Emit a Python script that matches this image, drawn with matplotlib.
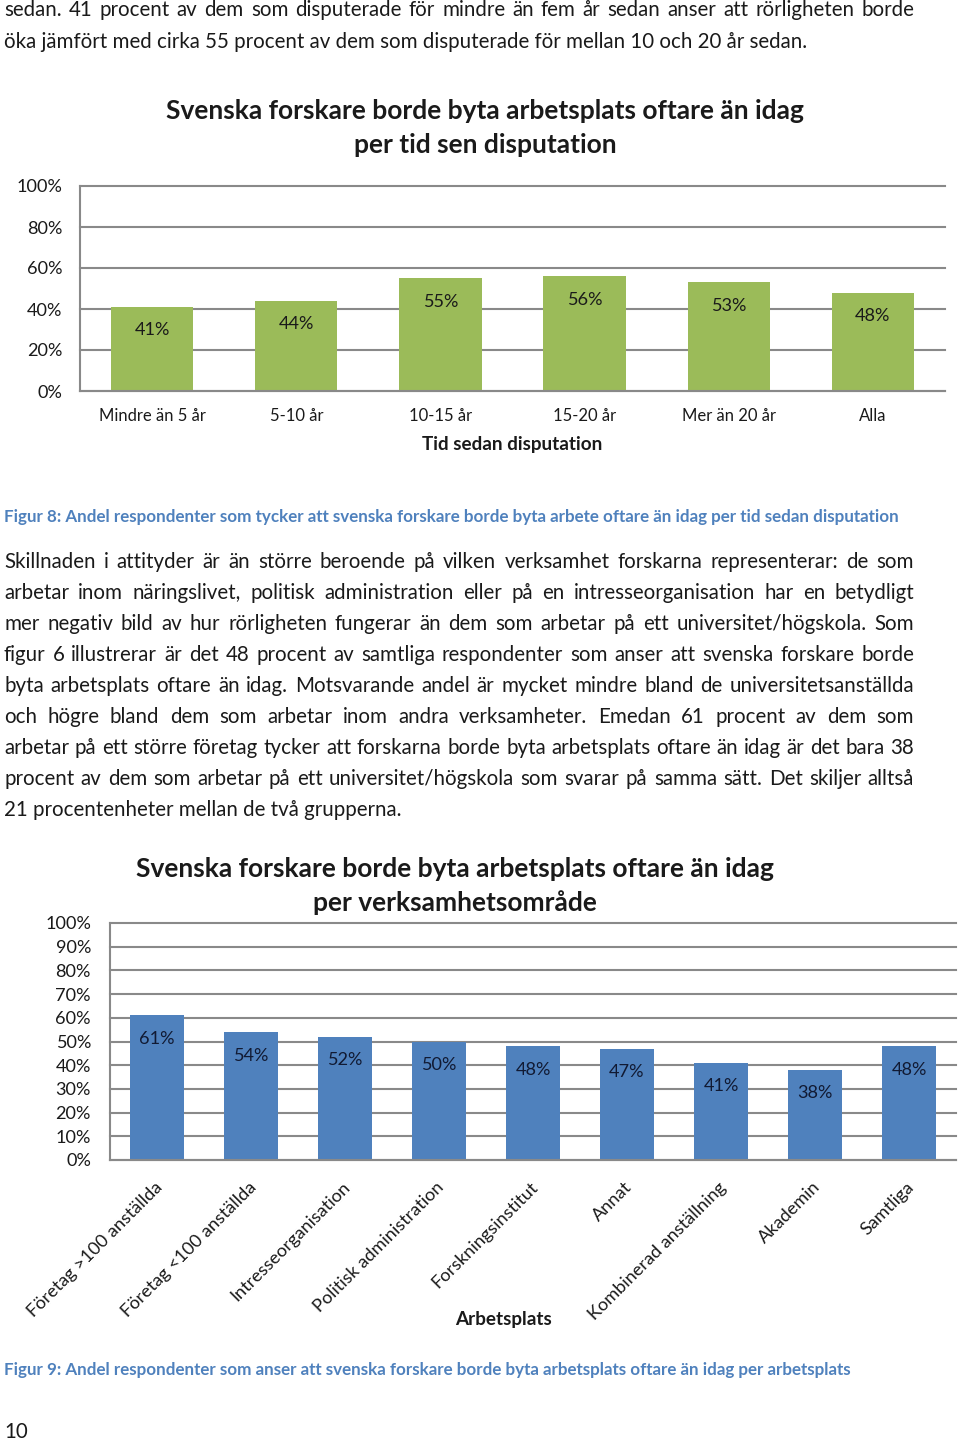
import matplotlib
matplotlib.use('Agg')
import matplotlib.pyplot as plt
from matplotlib.transforms import ScaledTranslation
import numpy as np

plt.rcParams['font.family'] = ['Lato', 'DejaVu Sans']

# ---------------- data ----------------
cat1 = ['Mindre än 5 år', '5-10 år', '10-15 år', '15-20 år', 'Mer än 20 år', 'Alla']
val1 = [41, 44, 55, 56, 53, 48]
title1 = 'Svenska forskare borde byta arbetsplats oftare än idag\nper tid sen disputation'
xlabel1 = 'Tid sedan disputation'
yticks1 = [0, 20, 40, 60, 80, 100]

cat2 = ['Företag >100 anställda', 'Företag <100 anställda', 'Intresseorganisation',
        'Politisk administration', 'Forskningsinstitut', 'Annat',
        'Kombinerad anställning', 'Akademin', 'Samtliga']
val2 = [61, 54, 52, 50, 48, 47, 41, 38, 48]
title2 = 'Svenska forskare borde byta arbetsplats oftare än idag\nper verksamhetsområde'
xlabel2 = 'Arbetsplats'
yticks2 = [0, 10, 20, 30, 40, 50, 60, 70, 80, 90, 100]

top_lines = [
    'sedan. 41 procent av dem som disputerade för mindre än fem år sedan anser att rörligheten borde',
    'öka jämfört med cirka 55 procent av dem som disputerade för mellan 10 och 20 år sedan.',
]
caption1 = 'Figur 8: Andel respondenter som tycker att svenska forskare borde byta arbete oftare än idag per tid sedan disputation'
body_lines = [
    'Skillnaden i attityder är än större beroende på vilken verksamhet forskarna representerar: de som',
    'arbetar inom näringslivet, politisk administration eller på en intresseorganisation har en betydligt',
    'mer negativ bild av hur rörligheten fungerar än dem som arbetar på ett universitet/högskola. Som',
    'figur 6 illustrerar är det 48 procent av samtliga respondenter som anser att svenska forskare borde',
    'byta arbetsplats oftare än idag. Motsvarande andel är mycket mindre bland de universitetsanställda',
    'och högre bland dem som arbetar inom andra verksamheter. Emedan 61 procent av dem som',
    'arbetar på ett större företag tycker att forskarna borde byta arbetsplats oftare än idag är det bara 38',
    'procent av dem som arbetar på ett universitet/högskola som svarar på samma sätt. Det skiljer alltså',
    '21 procentenheter mellan de två grupperna.',
]
caption2 = 'Figur 9: Andel respondenter som anser att svenska forskare borde byta arbetsplats oftare än idag per arbetsplats'
page_no = '10'

# ---------------- setup ----------------
W, H = 960, 1441
fig = plt.figure(figsize=(W / 100, H / 100), dpi=100)
fig.patch.set_facecolor('white')
renderer = fig.canvas.get_renderer()
PX2PT = 72 / 100

GREEN = '#9BBB59'
BLUE = '#4F81BD'
GRID = '#898989'
CAPC = '#4F81BD'
TXT = '#1a1a1a'


def fx(x):
    return x / W


def fy(y):
    return 1 - y / H


def text_width(s, size, weight='normal'):
    t = fig.text(0, 0, s, fontsize=size, fontweight=weight)
    w = t.get_window_extent(renderer).width
    t.remove()
    return w


def fit(s, target, weight='normal', ref=12.0):
    return ref * target / text_width(s, ref, weight)


BODY = fit(top_lines[1], 802)
CAP = fit(caption1, 891, 'bold')
TITLE = fit('Svenska forskare borde byta arbetsplats oftare än idag', 634, 'bold')
TICK = fit('Mindre än 5 år', 107)
NUM = TICK * 1.09
TICK2 = TICK * 1.09
XLAB = fit(xlabel1, 179, 'bold')


def justify(line, base_y, size, x0=4, x1=914, color=TXT, weight='normal', just=True):
    if not just:
        fig.text(fx(x0), fy(base_y), line, fontsize=size, color=color,
                 fontweight=weight, ha='left', va='baseline')
        return
    words = line.split(' ')
    widths = [text_width(w, size, weight) for w in words]
    gap = (x1 - x0 - sum(widths)) / (len(words) - 1)
    x = x0
    for w, wd in zip(words, widths):
        fig.text(fx(x), fy(base_y), w, fontsize=size, color=color,
                 fontweight=weight, ha='left', va='baseline')
        x += wd + gap


# ---------------- text blocks ----------------
justify(top_lines[0], 16, BODY)
justify(top_lines[1], 48, BODY, just=False)
justify(caption1, 522, CAP, color=CAPC, weight='bold', just=False)
for i, ln in enumerate(body_lines):
    justify(ln, 568 + 31 * i, BODY, just=(i != len(body_lines) - 1))
justify(caption2, 1375, CAP, color=CAPC, weight='bold', just=False)
fig.text(fx(4), fy(1438), page_no, fontsize=BODY, color=TXT, ha='left', va='baseline')


def style_axes(ax):
    for s in ['top', 'right']:
        ax.spines[s].set_visible(False)
    for s in ['left', 'bottom']:
        ax.spines[s].set_color(GRID)
        ax.spines[s].set_linewidth(1.5)
    ax.yaxis.grid(True, color=GRID, lw=1.5)
    ax.set_axisbelow(True)
    for gl in ax.get_ygridlines():
        gl.set_clip_on(False)
    ax.tick_params(length=0, colors=TXT)


# ---------------- chart 1 ----------------
ax1 = fig.add_axes([fx(80), fy(391), (945 - 80) / W, (391 - 186) / H])
x1 = np.arange(len(cat1))
ax1.bar(x1, np.array(val1) / 100, width=0.57, color=GREEN, zorder=2)
ax1.set_xlim(-0.5, len(cat1) - 0.5)
ax1.set_ylim(0, 1)
ax1.set_yticks(np.array(yticks1) / 100)
ax1.set_yticklabels([f'{v}%' for v in yticks1])
ax1.set_xticks(x1)
ax1.set_xticklabels(cat1)
style_axes(ax1)
ax1.tick_params(axis='y', pad=18 * PX2PT, labelsize=NUM)
ax1.tick_params(axis='x', pad=17 * PX2PT, labelsize=TICK)
for xi, v in zip(x1, val1):
    ax1.annotate(f'{v}%', (xi, v / 100), xytext=(0, -23.5 * PX2PT), textcoords='offset points',
                 ha='center', va='center', fontsize=NUM, color=TXT)
fig.text(fx(485), fy(119), title1.split('\n')[0], fontsize=TITLE, fontweight='bold',
         ha='center', va='baseline', color=TXT)
fig.text(fx(485), fy(153), title1.split('\n')[1], fontsize=TITLE, fontweight='bold',
         ha='center', va='baseline', color=TXT)
fig.text(fx(512), fy(450), xlabel1, fontsize=XLAB, fontweight='bold',
         ha='center', va='baseline', color=TXT)

# ---------------- chart 2 ----------------
ax2 = fig.add_axes([fx(110), fy(1160), (956 - 110) / W, (1160 - 923) / H])
x2 = np.arange(len(cat2))
ax2.bar(x2, np.array(val2) / 100, width=0.57, color=BLUE, zorder=2)
ax2.set_xlim(-0.5, len(cat2) - 0.5)
ax2.set_ylim(0, 1)
ax2.set_yticks(np.array(yticks2) / 100)
ax2.set_yticklabels([f'{v}%' for v in yticks2])
ax2.set_xticks(x2)
ax2.set_xticklabels(cat2, rotation=45, ha='right', va='top', rotation_mode='anchor')
style_axes(ax2)
ax2.tick_params(axis='y', pad=19 * PX2PT, labelsize=TICK2)
ax2.tick_params(axis='x', pad=19 * PX2PT, labelsize=TICK2)
for lab in ax2.get_xticklabels():
    lab.set_transform(lab.get_transform() + ScaledTranslation(-3 / 100, 0, fig.dpi_scale_trans))
for xi, v in zip(x2, val2):
    ax2.annotate(f'{v}%', (xi, v / 100), xytext=(0, -23.5 * PX2PT), textcoords='offset points',
                 ha='center', va='center', fontsize=TICK2, color='#111a33')
fig.text(fx(455), fy(877), title2.split('\n')[0], fontsize=TITLE, fontweight='bold',
         ha='center', va='baseline', color=TXT)
fig.text(fx(455), fy(911), title2.split('\n')[1], fontsize=TITLE, fontweight='bold',
         ha='center', va='baseline', color=TXT)
fig.text(fx(503), fy(1325), xlabel2, fontsize=XLAB, fontweight='bold',
         ha='center', va='baseline', color=TXT)

fig.savefig('out.png', dpi=100, facecolor='white')
